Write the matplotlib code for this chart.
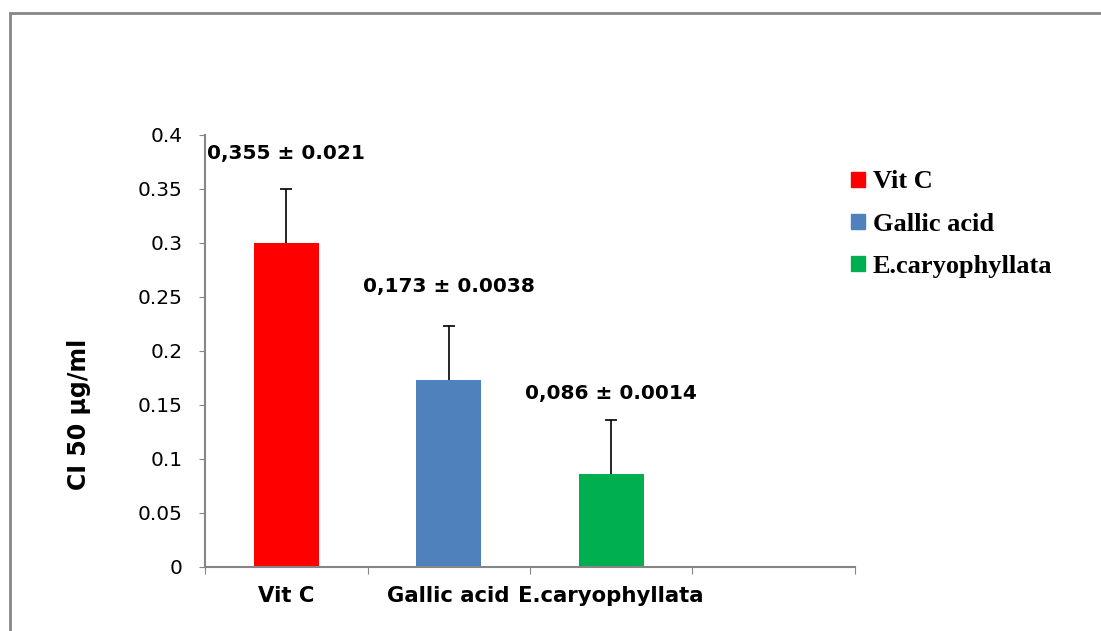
import numpy as np
import matplotlib.pyplot as plt
from matplotlib.patches import Rectangle

# Data
categories = ["Vit C", "Gallic acid", "E.caryophyllata"]
values = [0.30, 0.173, 0.086]
errors = [0.05, 0.05, 0.05]
colors = ["#FF0000", "#4F81BD", "#00B050"]
bar_labels = ["0,355 ± 0.021", "0,173 ± 0.0038", "0,086 ± 0.0014"]
label_y = [0.383, 0.260, 0.161]
y_ticks = [0, 0.05, 0.1, 0.15, 0.2, 0.25, 0.3, 0.35, 0.4]
y_tick_labels = ["0", "0.05", "0.1", "0.15", "0.2", "0.25", "0.3", "0.35", "0.4"]

plt.rcParams['font.family'] = ['DejaVu Sans']

fig = plt.figure(figsize=(11.01, 6.31), dpi=100)
ax = fig.add_axes([205 / 1101, 1 - 567 / 631, 650 / 1101, 432 / 631])

# Outer frame of the chart area
fig.patches.append(Rectangle((10 / 1101, -0.1), 1.2, 1.1 - 13 / 631,
                             transform=fig.transFigure, fill=False,
                             edgecolor="#868686", linewidth=2))

positions = [i + 0.5 for i in range(len(categories))]
ax.bar(positions, values, width=0.4, color=colors, zorder=2)

# upper-only error bars
_, caplines, _ = ax.errorbar(positions, values, yerr=[[0] * len(errors), errors],
                             fmt="none", ecolor="black", elinewidth=1.2,
                             capsize=4.5, capthick=1.2, zorder=3)
for cl in caplines:
    if np.allclose(cl.get_ydata(), values):
        cl.set_visible(False)

for x, y, txt in zip(positions, label_y, bar_labels):
    ax.text(x, y, txt, ha="center", va="center", fontsize=14.5, fontweight="bold")

ax.set_xlim(0, 4)
ax.set_ylim(0, 0.4)
ax.set_yticks(y_ticks)
ax.set_yticklabels(y_tick_labels, fontsize=14.5)

# category boundaries as tick marks, names at the centres
ax.set_xticks([0, 1, 2, 3, 4])
ax.set_xticklabels([])
ax.set_xticks(positions, minor=True)
ax.set_xticklabels(categories, minor=True, fontsize=15.3, fontweight="bold")
ax.tick_params(axis="x", which="minor", length=0, pad=14)
ax.tick_params(axis="x", which="major", length=5, color="#868686", direction="out")
ax.tick_params(axis="y", length=4, color="#868686", direction="out", pad=12)

for side in ["top", "right"]:
    ax.spines[side].set_visible(False)
for side in ["left", "bottom"]:
    ax.spines[side].set_color("#868686")
    ax.spines[side].set_linewidth(1.5)

fig.text(79 / 1101, 1 - 414 / 631, "CI 50 µg/ml", rotation=90, ha="center",
         va="center", fontsize=17, fontweight="bold")

handles = [Rectangle((0, 0), 1, 1, color=c) for c in colors]
fig.legend(handles, categories, loc="upper left", bbox_to_anchor=(833 / 1101, 1 - 152 / 631),
           frameon=False, handlelength=0.5, handleheight=0.5, handletextpad=0.3,
           labelspacing=0.73, borderpad=0.2,
           prop={"family": "Liberation Serif", "weight": "bold", "size": 19})

fig.savefig("out.png", dpi=100)
